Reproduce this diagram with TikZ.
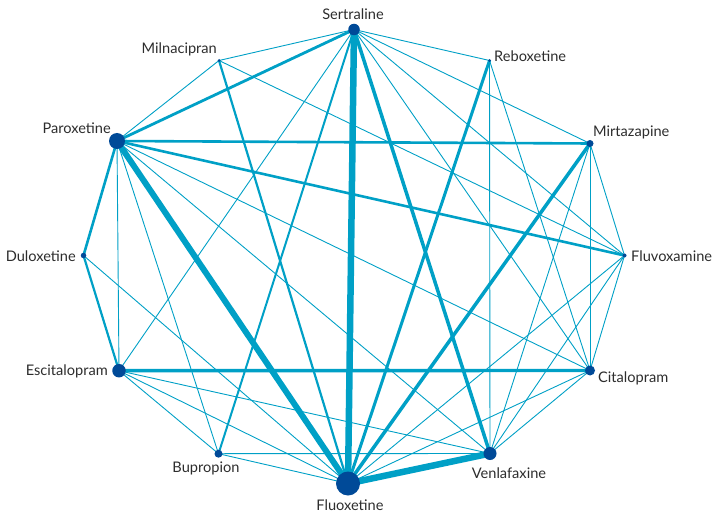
\documentclass[tikz,border=0pt]{standalone}
\usepackage{fontspec}
\setmainfont{Lato}
\definecolor{edgec}{RGB}{0,160,198}
\definecolor{nodec}{RGB}{0,74,152}
\definecolor{textc}{RGB}{45,45,45}
\pgfdeclarelayer{bg}
\pgfsetlayers{bg,main}
\begin{document}
\begin{tikzpicture}[x=1pt,y=-1pt,
  dot/.style={circle,fill=nodec,draw=none,inner sep=0pt},
  lab/.style={text=textc,font=\fontsize{14.6}{16}\selectfont,inner sep=0pt},
  e/.style={draw=edgec,line width=#1},
  e/.default=0.9pt]
\useasboundingbox (0,0) rectangle (714,513);
% nodes
\node[dot,minimum size=11.5pt] (S)  at (354,29.5) {};
\node[dot,minimum size=3pt]    (Mil) at (219,60.5) {};
\node[dot,minimum size=3pt]    (R)  at (489.5,60.5) {};
\node[dot,minimum size=16pt]   (P)  at (117,141) {};
\node[dot,minimum size=7pt]    (Mir) at (590,143.5) {};
\node[dot,minimum size=5.5pt]  (D)  at (83.5,255.5) {};
\node[dot,minimum size=4pt]    (Fv) at (624.5,255.5) {};
\node[dot,minimum size=13.5pt] (E)  at (119,370.7) {};
\node[dot,minimum size=10pt]   (C)  at (590,370.5) {};
\node[dot,minimum size=8pt]    (B)  at (218.5,453.7) {};
\node[dot,minimum size=13pt]   (V)  at (490,453.5) {};
\node[dot,minimum size=24pt]   (F)  at (348,483.5) {};
% labels
\node[lab,anchor=center] (lS) at (353,14) {Sertraline};
\node[lab,anchor=east] (lMil) at (217,49) {Milnacipran};
\node[lab,anchor=west] (lR) at (494,56) {Reboxetine};
\node[lab,anchor=east] (lP) at (111,128) {Paroxetine};
\node[lab,anchor=west] (lMir) at (593,132) {Mirtazapine};
\node[lab,anchor=east] (lD) at (76,256) {Duloxetine};
\node[lab,anchor=west] (lFv) at (631,256) {Fluvoxamine};
\node[lab,anchor=east] (lE) at (108,371) {Escitalopram};
\node[lab,anchor=west] (lC) at (598,378) {Citalopram};
\node[lab,anchor=center] (lB) at (206,468) {Bupropion};
\node[lab,anchor=center] (lV) at (509,473) {Venlafaxine};
\node[lab,anchor=center] (lF) at (350,505) {Fluoxetine};
% edges
\begin{pgfonlayer}{bg}
% thin
\draw[e] (S.center) -- (Mil.center);
\draw[e] (S.center) -- (R.center);
\draw[e] (S.center) -- (Mir.center);
\draw[e] (S.center) -- (Fv.center);
\draw[e] (S.center) -- (C.center);
\draw[e] (S.center) -- (E.center);
\draw[e] (Mil.center) -- (P.center);
\draw[e] (Mil.center) -- (Fv.center);
\draw[e] (R.center) -- (V.center);
\draw[e] (R.center) -- (C.center);
\draw[e] (P.center) -- (E.center);
\draw[e] (P.center) -- (B.center);
\draw[e] (P.center) -- (V.center);
\draw[e] (P.center) -- (C.center);
\draw[e] (D.center) -- (F.center);
\draw[e] (E.center) -- (V.center);
\draw[e] (E.center) -- (F.center);
\draw[e] (E.center) -- (B.center);
\draw[e] (B.center) -- (F.center);
\draw[e] (B.center) -- (V.center);
\draw[e] (Mir.center) -- (Fv.center);
\draw[e] (Mir.center) -- (C.center);
\draw[e] (Mir.center) -- (V.center);
\draw[e] (Fv.center) -- (C.center);
\draw[e] (Fv.center) -- (V.center);
\draw[e] (Fv.center) -- (F.center);
\draw[e] (C.center) -- (V.center);
\draw[e] (C.center) -- (F.center);
% weighted
\draw[e=2.8pt] (S.center) -- (P.center);
\draw[e=6.5pt] (S.center) -- (F.center);
\draw[e=3.5pt] (S.center) -- (V.center);
\draw[e=2pt] (S.center) -- (B.center);
\draw[e=2.6pt] (P.center) -- (Mir.center);
\draw[e=2.6pt] (P.center) -- (Fv.center);
\draw[e=2.6pt] (P.center) -- (D.center);
\draw[e=6pt] (P.center) -- (F.center);
\draw[e=2.2pt] (Mil.center) -- (F.center);
\draw[e=3pt] (R.center) -- (F.center);
\draw[e=3.5pt] (Mir.center) -- (F.center);
\draw[e=2.2pt] (D.center) -- (E.center);
\draw[e=3.4pt] (E.center) -- (C.center);
\draw[e=6.5pt] (F.center) -- (V.center);
\end{pgfonlayer}
\end{tikzpicture}
\end{document}
